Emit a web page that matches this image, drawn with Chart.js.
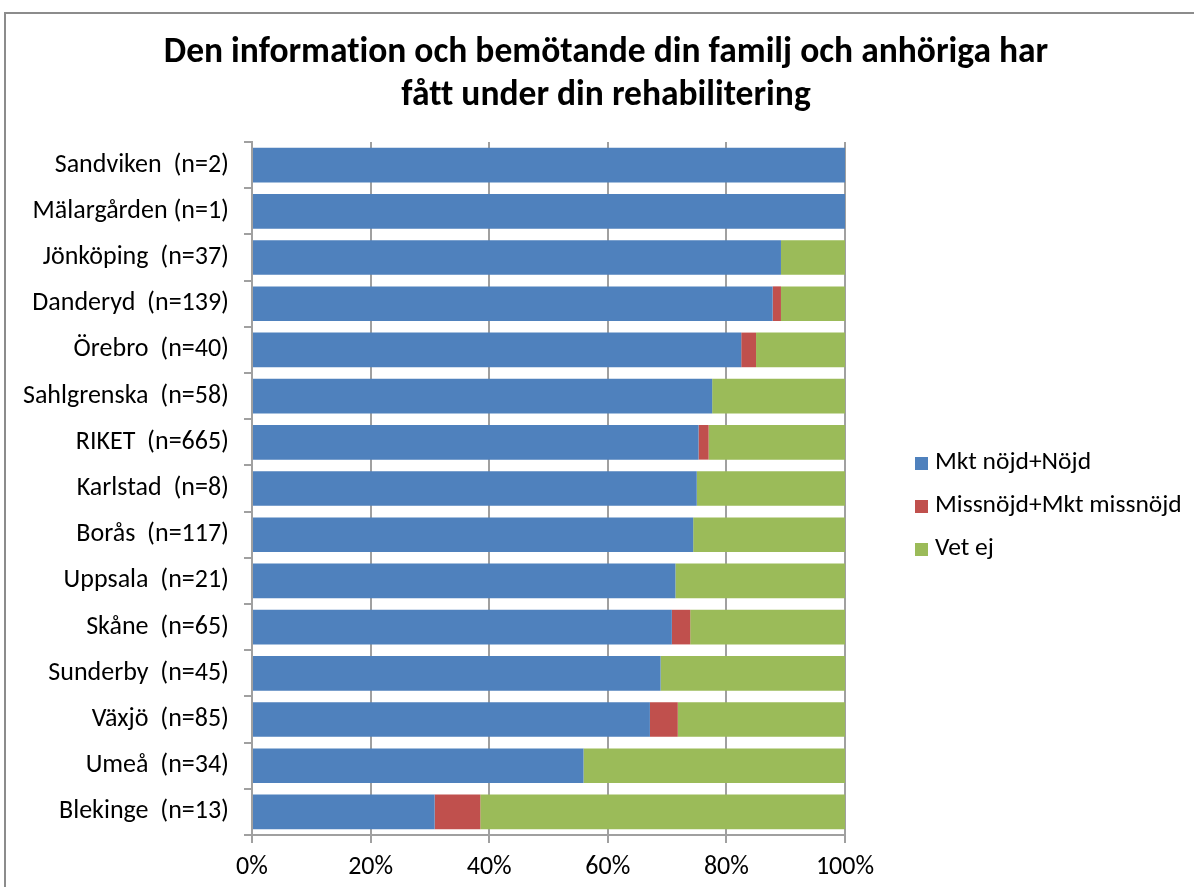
<!DOCTYPE html>
<html>
<head>
<meta charset="utf-8">
<script src="https://cdn.jsdelivr.net/npm/chart.js@4.4.1/dist/chart.umd.min.js"></script>
<style>
  html, body { margin: 0; padding: 0; background: #fff; overflow: hidden; }
  #wrap { position: relative; width: 1194px; height: 887px; }
  #frame { position: absolute; left: 4px; top: 12px; width: 1400px; height: 1000px; border: 2px solid #8c8c8c; pointer-events: none; box-sizing: border-box; }
</style>
</head>
<body>
<div id="wrap">
  <canvas id="c" width="1194" height="887"></canvas>
  <div id="frame"></div>
</div>
<script>
const titleLines = ['Den information och bemötande din familj och anhöriga har', 'fått under din rehabilitering'];
const categories = ['Sandviken  (n=2)', 'Mälargården (n=1)', 'Jönköping  (n=37)', 'Danderyd  (n=139)', 'Örebro  (n=40)', 'Sahlgrenska  (n=58)', 'RIKET  (n=665)', 'Karlstad  (n=8)', 'Borås  (n=117)', 'Uppsala  (n=21)', 'Skåne  (n=65)', 'Sunderby  (n=45)', 'Växjö  (n=85)', 'Umeå  (n=34)', 'Blekinge  (n=13)'];
const seriesNames = ['Mkt nöjd+Nöjd', 'Missnöjd+Mkt missnöjd', 'Vet ej'];
const nojd     = [100, 100, 89.2, 87.8, 82.5, 77.6, 75.3, 75.0, 74.4, 71.4, 70.8, 68.9, 67.1, 55.9, 30.8];
const missnojd = [0, 0, 0, 1.4, 2.5, 0, 1.7, 0, 0, 0, 3.1, 0, 4.7, 0, 7.7];
const vetEj    = [0, 0, 10.8, 10.8, 15.0, 22.4, 23.0, 25.0, 25.6, 28.6, 26.1, 31.1, 28.2, 44.1, 61.5];
const xTicks = [0, 20, 40, 60, 80, 100];
const colors = ['#4F81BD', '#C0504D', '#9BBB59'];

const FONT = "Carlito, 'Liberation Sans', Arial, sans-serif";

const titlePlugin = {
  id: 'centerTitle',
  afterDraw(chart) {
    const ctx = chart.ctx;
    ctx.save();
    ctx.font = 'bold 35.5px ' + FONT;
    try { ctx.textRendering = 'optimizeSpeed'; } catch (e) {}
    ctx.fillStyle = '#000';
    ctx.textAlign = 'center';
    ctx.textBaseline = 'middle';
    titleLines.forEach((t, i) => ctx.fillText(t, 606, 53 + i * 43));
    ctx.restore();
  }
};

const legendPlugin = {
  id: 'sideLegend',
  afterDraw(chart) {
    const ctx = chart.ctx;
    ctx.save();
    ctx.font = '25.5px ' + FONT;
    ctx.textBaseline = 'middle';
    ctx.textAlign = 'left';
    chart.data.datasets.forEach((ds, i) => {
      const y = 463 + i * 43;
      ctx.fillStyle = ds.backgroundColor;
      ctx.fillRect(915, y - 6, 13, 13);
      ctx.fillStyle = '#000';
      ctx.fillText(ds.label, 935, y);
    });
    ctx.restore();
  }
};

new Chart(document.getElementById('c'), {
  type: 'bar',
  data: {
    labels: categories,
    datasets: [
      { label: seriesNames[0], data: nojd, backgroundColor: colors[0] },
      { label: seriesNames[1], data: missnojd, backgroundColor: colors[1] },
      { label: seriesNames[2], data: vetEj, backgroundColor: colors[2] }
    ]
  },
  options: {
    indexAxis: 'y',
    responsive: false,
    animation: false,
    barPercentage: 0.75,
    categoryPercentage: 1.0,
    layout: { padding: { left: 0, right: 349, top: 142, bottom: 0 } },
    plugins: {
      legend: { display: false },
      tooltip: { enabled: false },
      title: { display: false }
    },
    scales: {
      x: {
        stacked: true,
        min: 0,
        max: 100,
        afterBuildTicks(scale) { scale.ticks = xTicks.map(v => ({ value: v })); },
        afterFit(scale) { scale.height = 52; },
        ticks: {
          callback: v => v + '%',
          color: '#000',
          font: { family: FONT, size: 26 },
          padding: 9,
          maxRotation: 0
        },
        grid: { color: '#a0a0a0', lineWidth: 2, tickLength: 8, drawTicks: true },
        border: { color: '#a0a0a0', width: 2 }
      },
      y: {
        stacked: true,
        afterFit(scale) { scale.width = 252; },
        ticks: {
          color: '#000',
          font: { family: FONT, size: 26 },
          padding: 15
        },
        grid: { drawOnChartArea: false, drawTicks: true, tickLength: 8, color: '#a0a0a0', lineWidth: 2, offset: true },
        border: { color: '#a0a0a0', width: 2 }
      }
    }
  },
  plugins: [titlePlugin, legendPlugin]
});
</script>
</body>
</html>
